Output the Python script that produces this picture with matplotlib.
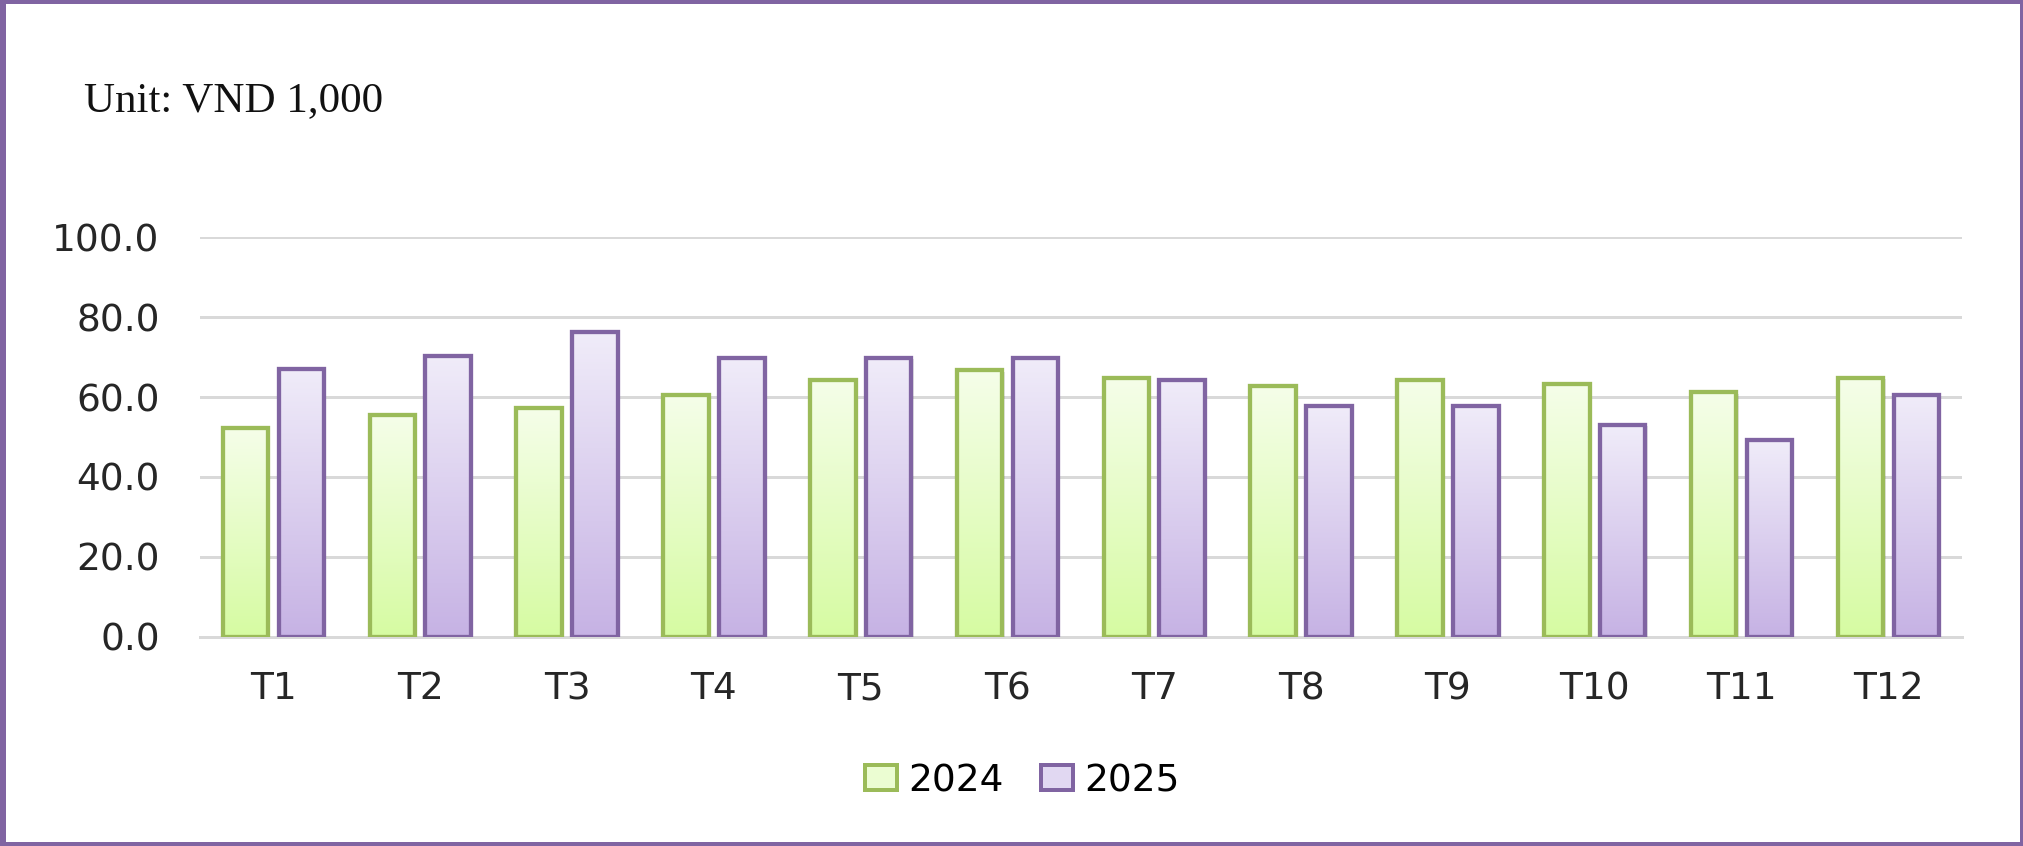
import numpy as np
import matplotlib
matplotlib.use("Agg")
import matplotlib.pyplot as plt
from matplotlib.patches import Patch, Rectangle
from matplotlib.colors import LinearSegmentedColormap
from matplotlib.lines import Line2D

# ── data ──────────────────────────────────────────────────────────────────────
months = ["T1", "T2", "T3", "T4", "T5", "T6", "T7", "T8", "T9", "T10", "T11", "T12"]
vals_2024 = [52.2, 55.6, 57.3, 60.5, 64.4, 66.7, 64.8, 62.7, 64.4, 63.3, 61.2, 64.8]
vals_2025 = [67.1, 70.4, 76.4, 69.8, 69.8, 69.8, 64.4, 57.9, 57.9, 53.0, 49.3, 60.6]
series_names = ["2024", "2025"]
yticks = [0, 20, 40, 60, 80, 100]

# ── colours ───────────────────────────────────────────────────────────────────
GREEN_EDGE = "#9bbb59"
PURPLE_EDGE = "#8064a2"
GREEN_CMAP = LinearSegmentedColormap.from_list("g", ["#d6fba2", "#f5fee9"])
PURPLE_CMAP = LinearSegmentedColormap.from_list("p", ["#c6b2e4", "#f0ecf9"])
GRID = "#d9d9d9"
PX = 72 / 100  # points per pixel at dpi 100
FONT = "DejaVu Sans"

fig = plt.figure(figsize=(20.24, 8.46), dpi=100)
ax = fig.add_axes([0.0988, 0.2475, 0.8705, 0.4718])

x = np.arange(len(months))
bw = 0.31
off = 0.19
grad = np.linspace(0, 1, 256).reshape(-1, 1)


def gradient_bars(xpos, vals, cmap, edge):
    bars = ax.bar(xpos, vals, bw, facecolor="none", edgecolor=edge,
                  linewidth=4.3 * PX, zorder=4)
    for b in bars:
        x0, y0 = b.get_x(), b.get_y()
        w, h = b.get_width(), b.get_height()
        # soft shadow
        ax.add_patch(Rectangle((x0 + 0.015, y0), w, h - 0.3, facecolor="#000000",
                               alpha=0.10, edgecolor="none", zorder=2))
        im = ax.imshow(grad, extent=[x0, x0 + w, y0, y0 + h], origin="lower",
                       cmap=cmap, aspect="auto", zorder=3, interpolation="bicubic")
        im.set_clip_path(b)
    return bars


gradient_bars(x - off, vals_2024, GREEN_CMAP, GREEN_EDGE)
gradient_bars(x + off, vals_2025, PURPLE_CMAP, PURPLE_EDGE)

ax.set_xlim(-0.5, len(months) - 0.5)
ax.set_ylim(0, 100)
ax.set_yticks(yticks)
ax.set_yticklabels([f"{v:.1f}" for v in yticks])
ax.set_xticks(x)
ax.set_xticklabels(months)
ax.yaxis.grid(True, color=GRID, linewidth=3 * PX, zorder=0)
ax.set_axisbelow(True)
for s in ["top", "right", "left"]:
    ax.spines[s].set_visible(False)
ax.spines["bottom"].set_color(GRID)
ax.spines["bottom"].set_linewidth(3 * PX)
ax.spines["bottom"].set_zorder(1)
ax.tick_params(axis="both", length=0, labelsize=27, colors="#262626")
ax.tick_params(axis="y", pad=29)
ax.tick_params(axis="x", pad=25)
for lbl in ax.get_xticklabels() + ax.get_yticklabels():
    lbl.set_family(FONT)

fig.text(84 / 2024, 1 - 101 / 846, "Unit: VND 1,000", fontsize=31,
         family="Liberation Serif", va="center", ha="left", color="#111111")

handles = [
    Patch(facecolor="#ebfdd2", edgecolor=GREEN_EDGE, linewidth=4 * PX, label=series_names[0]),
    Patch(facecolor="#e1d8f2", edgecolor=PURPLE_EDGE, linewidth=4 * PX, label=series_names[1]),
]
fig.legend(handles=handles, loc="center", bbox_to_anchor=(0.505, 1 - 781 / 846),
           ncol=2, frameon=False, handlelength=0.85, handleheight=0.65,
           handletextpad=0.3, columnspacing=1.0,
           prop={"family": FONT, "size": 27})

# figure border
fig.add_artist(Rectangle((0, 0), 1, 1, transform=fig.transFigure, fill=False,
                         edgecolor=PURPLE_EDGE, linewidth=8 * PX, clip_on=False))
fig.add_artist(Line2D([0.0015, 0.0015], [0, 1], transform=fig.transFigure,
                      color=PURPLE_EDGE, linewidth=6 * PX))

fig.savefig("out.png", dpi=100)
